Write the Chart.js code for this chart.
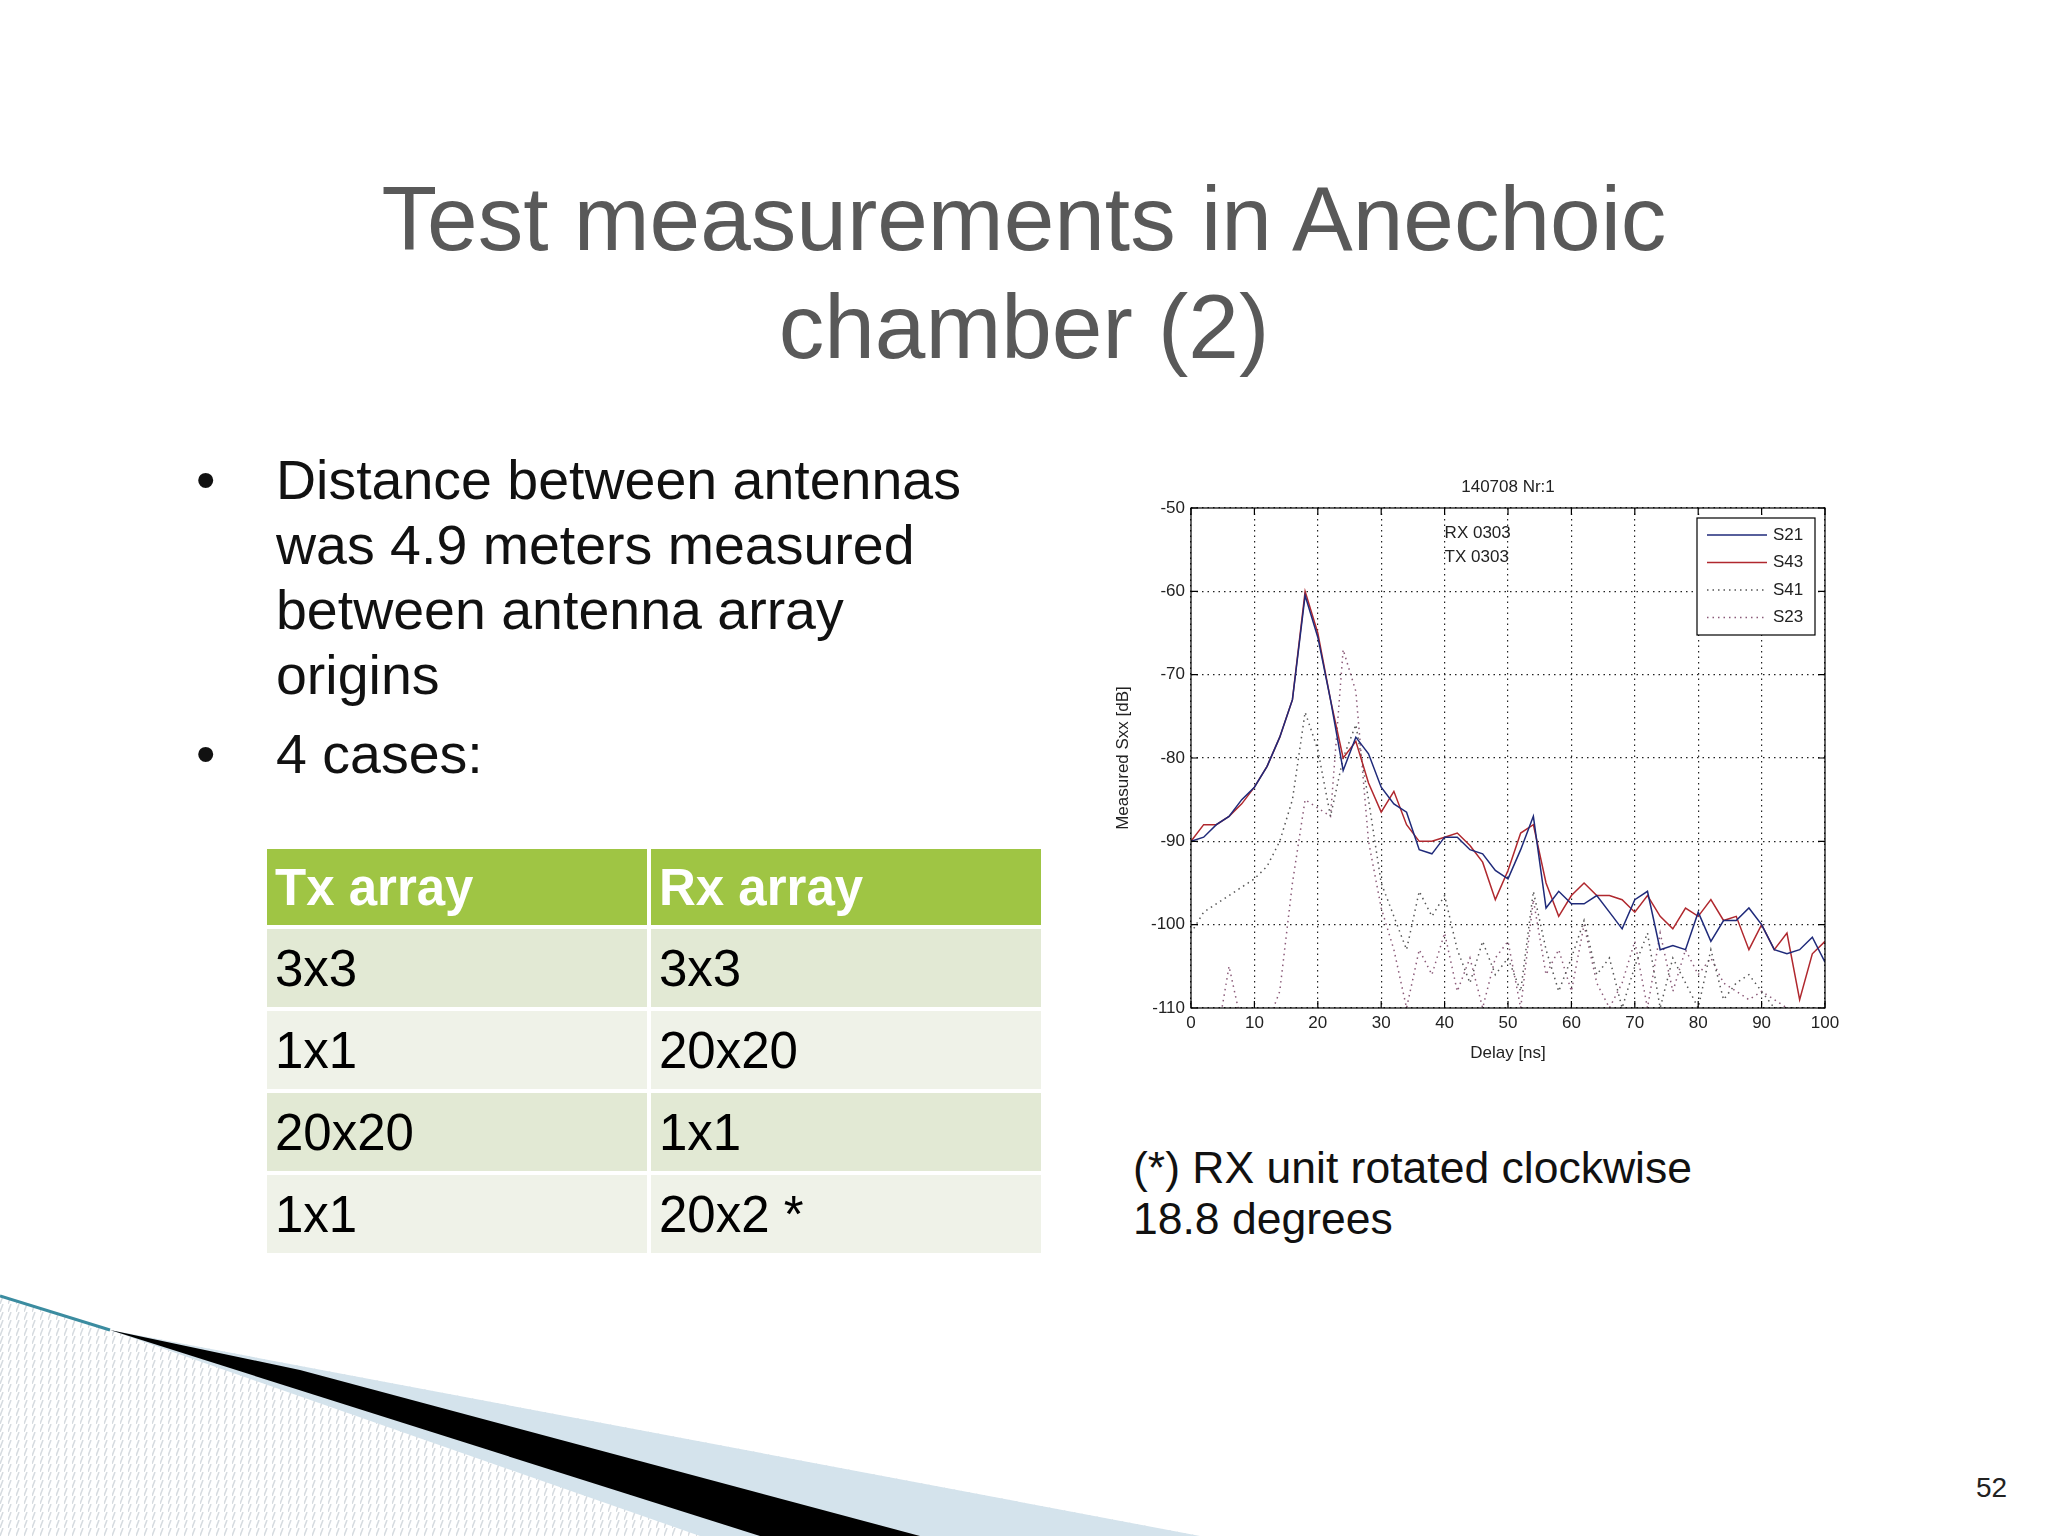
<!DOCTYPE html>
<html><head><meta charset="utf-8">
<script src="https://cdn.jsdelivr.net/npm/chart.js@4/dist/chart.umd.min.js"></script>
<style>
  body { margin:0; width:2048px; height:1536px; background:#fff; position:relative; overflow:hidden; font-family:'Liberation Sans', Arial, sans-serif; }
  .title { position:absolute; left:0; width:2048px; top:165px; text-align:center; font-size:91px; line-height:108px; color:#595959; }
  .bullets { position:absolute; left:196px; top:448px; font-size:55.5px; line-height:65px; color:#111; }
  .bullets div { position:relative; padding-left:80px; margin-bottom:14px; }
  .bullets div:before { content:'•'; position:absolute; left:0; }
  table { position:absolute; left:263px; top:845px; width:782px; border-collapse:separate; border-spacing:4px; font-size:51px; }
  td { height:78px; padding:0 8px; }
  th { height:76px; background:#9fc544; color:#fff; text-align:left; padding:0 8px; font-weight:bold; }
  tr.a td { background:#e2e9d4; } tr.b td { background:#eff2e8; }
  .note { position:absolute; left:1133px; top:1142px; font-size:44.5px; line-height:51px; color:#111; }
  .pg { position:absolute; left:1976px; top:1472px; font-size:28px; color:#222; }
  #c { position:absolute; left:1111px; top:466px; }
</style></head>
<body>
<div class="title">Test measurements in Anechoic<br>chamber (2)</div>
<div class="bullets">
  <div>Distance between antennas<br>was 4.9 meters measured<br>between antenna array<br>origins</div>
  <div>4 cases:</div>
</div>
<table>
  <tr><th>Tx array</th><th>Rx array</th></tr>
  <tr class="a"><td>3x3</td><td>3x3</td></tr>
  <tr class="b"><td>1x1</td><td>20x20</td></tr>
  <tr class="a"><td>20x20</td><td>1x1</td></tr>
  <tr class="b"><td>1x1</td><td>20x2 *</td></tr>
</table>
<svg style="position:absolute;left:0;top:0" width="2048" height="1536">
  <defs><pattern id="h" width="8" height="8" patternUnits="userSpaceOnUse"><line x1="0" y1="8" x2="3" y2="0" stroke="#d6dbe0" stroke-width="1.5"/></pattern></defs>
  <polygon points="0,1296 110,1330 1200,1536 0,1536" fill="url(#h)"/>
  <polygon points="110,1330 1200,1536 700,1536" fill="#d4e3ec"/>
  <polygon points="110,1330 300,1370 920,1536 760,1536" fill="#000"/>
  <line x1="0" y1="1296" x2="110" y2="1330" stroke="#3b8ca0" stroke-width="3"/>
</svg>
<canvas id="c" width="740" height="600" style="width:740px;height:600px"></canvas>
<div class="note">(*) RX unit rotated clockwise<br>18.8 degrees</div>
<div class="pg">52</div>
<script>
const delays = [];
for (let d = 0; d <= 100; d += 2) delays.push(d);
const s21 = [-90,-89.5,-88,-87,-85,-83.5,-81,-77.5,-73,-60.5,-65.5,-73,-81.5,-77.5,-79.5,-83.5,-85.5,-86.5,-91,-91.5,-89.5,-89.5,-91,-91.5,-93.5,-94.5,-91,-87,-98,-96,-97.5,-97.5,-96.5,-98.5,-100.5,-97,-96,-103,-102.5,-103,-98.5,-102,-99.5,-99.5,-98,-100,-103,-103.5,-103,-101.5,-104.5];
const s43 = [-90,-88,-88,-87,-85.5,-83.5,-81,-77.5,-73,-60,-65,-73,-80,-78,-83,-86.5,-84,-88,-90,-90,-89.5,-89,-90.5,-92.5,-97,-93.5,-89,-88,-95,-99,-96.5,-95,-96.5,-96.5,-97,-98.5,-96.5,-99,-100.5,-98,-99,-97,-99.5,-99,-103,-100,-103,-101,-109,-103.5,-102];
const s41 = [-101,-98.5,-97.5,-96.5,-95.5,-94.5,-93,-90,-85,-74.5,-79,-87,-80,-76,-85,-95,-99,-103,-96,-99,-96.5,-103,-107,-102,-106,-104,-108,-96,-103,-108,-104,-99.5,-106,-104,-110,-105,-101,-110,-104,-107,-110,-103,-109,-107,-106,-108,-110,-110,-110,-110,-110];
const s23 = [-114,-114,-114,-105,-112,-112,-112,-108,-95,-85,-86,-87,-67,-72,-90,-98,-103,-110,-103,-106,-101,-108,-104,-110,-104,-102,-110,-97,-106,-103,-108,-100,-107,-110,-107,-102,-110,-101,-108,-103,-106,-104,-107,-108,-109,-108,-109,-110,-112,-112,-112];
const xTicks = [0,10,20,30,40,50,60,70,80,90,100];
const yTicks = [-50,-60,-70,-80,-90,-100,-110];

const pts = arr => arr.map((v, i) => ({ x: delays[i], y: v }));
const series = [
  { label: 'S21', data: s21, color: '#1f2a7a', dash: [] },
  { label: 'S43', data: s43, color: '#b0282e', dash: [] },
  { label: 'S41', data: s41, color: '#555555', dash: [1.5, 4] },
  { label: 'S23', data: s23, color: '#8a5a78', dash: [1.5, 4] }
];

const deco = {
  id: 'deco',
  afterDraw(chart) {
    const { ctx, chartArea: a, scales: { x, y } } = chart;
    ctx.save();
    ctx.strokeStyle = '#000'; ctx.lineWidth = 1.2; ctx.setLineDash([]);
    ctx.strokeRect(a.left, a.top, a.right - a.left, a.bottom - a.top);
    // inward ticks
    xTicks.forEach(t => { const px = x.getPixelForValue(t); ctx.beginPath(); ctx.moveTo(px, a.bottom); ctx.lineTo(px, a.bottom - 7); ctx.moveTo(px, a.top); ctx.lineTo(px, a.top + 7); ctx.stroke(); });
    yTicks.forEach(t => { const py = y.getPixelForValue(t); ctx.beginPath(); ctx.moveTo(a.left, py); ctx.lineTo(a.left + 7, py); ctx.moveTo(a.right, py); ctx.lineTo(a.right - 7, py); ctx.stroke(); });
    ctx.fillStyle = '#222'; ctx.font = '17px "Liberation Sans Narrow", "Liberation Sans", sans-serif';
    ctx.textAlign = 'center';
    ctx.fillText('140708 Nr:1', (a.left + a.right) / 2, a.top - 16);
    ctx.textAlign = 'left';
    ctx.fillText('RX 0303', x.getPixelForValue(40), y.getPixelForValue(-53.6));
    ctx.fillText('TX 0303', x.getPixelForValue(40), y.getPixelForValue(-56.5));
    // legend
    const lx = a.right - 128, ly = a.top + 10, lw = 118, lh = 117;
    ctx.fillStyle = '#fff'; ctx.fillRect(lx, ly, lw, lh);
    ctx.strokeStyle = '#000'; ctx.strokeRect(lx, ly, lw, lh);
    series.forEach((s, i) => {
      const yy = ly + 17 + i * 27.5;
      ctx.strokeStyle = s.color; ctx.setLineDash(s.dash); ctx.lineWidth = 1.4;
      ctx.beginPath(); ctx.moveTo(lx + 10, yy); ctx.lineTo(lx + 70, yy); ctx.stroke();
      ctx.fillStyle = '#222'; ctx.textBaseline = 'middle';
      ctx.fillText(s.label, lx + 76, yy);
    });
    ctx.restore();
  }
};

new Chart(document.getElementById('c'), {
  type: 'line',
  data: {
    datasets: series.map(s => ({
      label: s.label, data: pts(s.data), borderColor: s.color, borderDash: s.dash,
      borderWidth: 1.5, pointRadius: 0, tension: 0, fill: false
    }))
  },
  options: {
    responsive: false, animation: false,
    layout: { padding: { top: 42, right: 26 } },
    plugins: { legend: { display: false }, tooltip: { enabled: false } },
    scales: {
      x: {
        type: 'linear', min: 0, max: 100,
        afterBuildTicks: s => { s.ticks = xTicks.map(v => ({ value: v })); },
        afterFit: s => { s.height = 58; },
        grid: { color: '#222', lineWidth: 1.2, drawTicks: false },
        border: { display: false, dash: [1.5, 4] },
        ticks: { color: '#222', font: { size: 17, family: 'Liberation Sans' }, padding: 5, maxRotation: 0 },
        title: { display: true, text: 'Delay [ns]', color: '#222', font: { size: 17, family: 'Liberation Sans' }, padding: 2 }
      },
      y: {
        min: -110, max: -50,
        afterBuildTicks: s => { s.ticks = yTicks.map(v => ({ value: v })); },
        afterFit: s => { s.width = 80; },
        grid: { color: '#222', lineWidth: 1.2, drawTicks: false },
        border: { display: false, dash: [1.5, 4] },
        ticks: { color: '#222', font: { size: 17, family: 'Liberation Sans' }, padding: 6 },
        title: { display: true, text: 'Measured Sxx [dB]', color: '#222', font: { size: 17, family: 'Liberation Sans' }, padding: 2 }
      }
    }
  },
  plugins: [deco]
});
</script>
</body></html>
